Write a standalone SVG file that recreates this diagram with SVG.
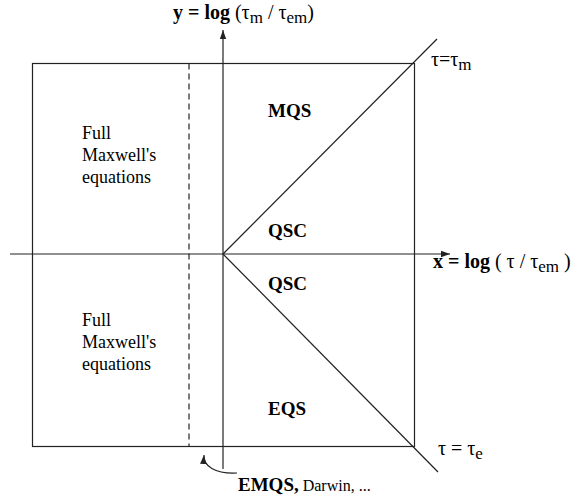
<svg xmlns="http://www.w3.org/2000/svg" width="574" height="496" viewBox="0 0 574 496">
<defs>
<style>
.ln{stroke:#222;stroke-width:1.2;fill:none}
text{font-family:"Liberation Serif","DejaVu Serif",serif;fill:#000}
.n{font-size:18px}
.b{font-size:19px;font-weight:bold}
.ax{font-size:20px}
</style>
<marker id="ah" viewBox="0 0 10 10" refX="10" refY="5" markerWidth="9" markerHeight="9" markerUnits="userSpaceOnUse" orient="auto">
<path d="M0,1.5 L10,5 L0,8.5 Z" fill="#222"/>
</marker>
</defs>
<g id="connectors">
<rect class="ln" x="32.5" y="63.5" width="382" height="383"/>
<line class="ln" x1="10" y1="254" x2="450" y2="254" marker-end="url(#ah)"/>
<line class="ln" x1="223" y1="469" x2="223" y2="30" marker-end="url(#ah)"/>
<line class="ln" x1="189" y1="63.5" x2="189" y2="446.5" stroke-dasharray="6,4"/>
<line class="ln" x1="223" y1="254" x2="437" y2="39"/>
<line class="ln" x1="223" y1="254" x2="438" y2="472"/>
<path class="ln" d="M237,473 C215,474 203,466 204,455" marker-end="url(#ah)"/>
</g>
<g id="y-axis-label"><text class="ax" x="173" y="19" font-family="Liberation Serif, serif"><tspan font-weight="bold">y = log</tspan> (τ<tspan font-size="17" dy="4">m</tspan><tspan dy="-4"> / τ</tspan><tspan font-size="17" dy="4">em</tspan><tspan dy="-4">)</tspan></text></g>
<g id="x-axis-label"><text class="ax" x="433" y="268"><tspan font-weight="bold">x = log</tspan> ( τ / τ<tspan font-size="17" dy="4">em</tspan><tspan dy="-4"> )</tspan></text></g>
<g id="tau-m"><text class="ax" x="431" y="66">τ=τ<tspan font-size="17" dy="4">m</tspan></text></g>
<g id="tau-e"><text class="ax" x="438" y="455">τ = τ<tspan font-size="17" dy="4">e</tspan></text></g>
<g id="full-upper"><text class="n" x="82" y="139">Full</text><text class="n" x="82" y="161">Maxwell's</text><text class="n" x="82" y="183">equations</text></g>
<g id="full-lower"><text class="n" x="82" y="326">Full</text><text class="n" x="82" y="348">Maxwell's</text><text class="n" x="82" y="370">equations</text></g>
<g id="mqs"><text class="b" x="268" y="117">MQS</text></g>
<g id="qsc-upper"><text class="b" x="268" y="237">QSC</text></g>
<g id="qsc-lower"><text class="b" x="268" y="290">QSC</text></g>
<g id="eqs"><text class="b" x="268" y="415">EQS</text></g>
<g id="emqs"><text x="238" y="491"><tspan font-weight="bold" font-size="19">EMQS,</tspan><tspan font-size="16"> Darwin, ...</tspan></text></g>
</svg>
